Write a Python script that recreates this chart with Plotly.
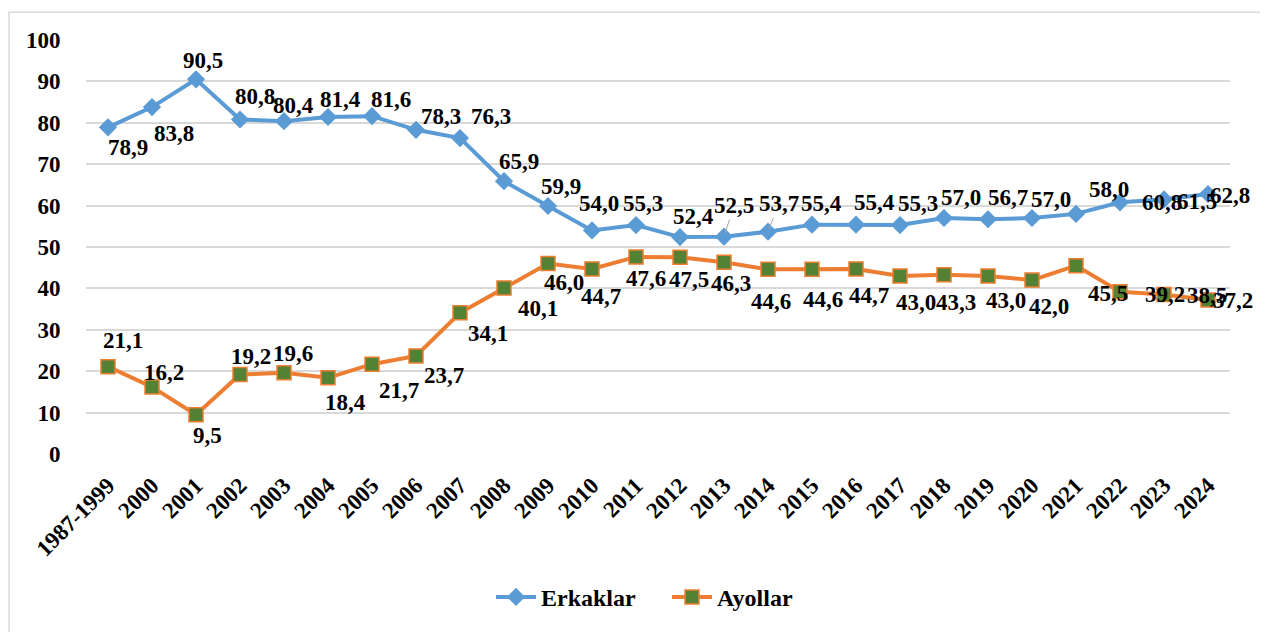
import plotly.graph_objects as go

categories = ["1987-1999", "2000", "2001", "2002", "2003", "2004", "2005", "2006", "2007",
              "2008", "2009", "2010", "2011", "2012", "2013", "2014", "2015", "2016",
              "2017", "2018", "2019", "2020", "2021", "2022", "2023", "2024"]
erkaklar = [78.9, 83.8, 90.5, 80.8, 80.4, 81.4, 81.6, 78.3, 76.3, 65.9, 59.9, 54.0, 55.3,
            52.4, 52.5, 53.7, 55.4, 55.4, 55.3, 57.0, 56.7, 57.0, 58.0, 60.8, 61.5, 62.8]
ayollar = [21.1, 16.2, 9.5, 19.2, 19.6, 18.4, 21.7, 23.7, 34.1, 40.1, 46.0, 44.7, 47.6,
           47.5, 46.3, 44.6, 44.6, 44.7, 43.0, 43.3, 43.0, 42.0, 45.5, 39.2, 38.5, 37.2]
y_ticks = [0, 10, 20, 30, 40, 50, 60, 70, 80, 90, 100]

# label offsets (pixels) - styling only
men_off = [(20, 20), (22, 26), (7, -19), (15, -23), (9, -16), (12, -18), (19, -17), (25, -13),
           (31, -22), (15, -20), (13, -20), (7, -27), (7, -22), (13, -21), (10, -31), (11, -28),
           (9, -21), (18, -22), (18, -22), (17, -21), (20, -22), (19, -19), (33, -24), (42, 0),
           (33, 2), (22, 1)]
wom_off = [(15, -26), (12, -14), (11, 21), (11, -18), (9, -19), (17, 25), (27, 26), (28, 20),
           (28, 21), (34, 21), (16, 19), (9, 28), (10, 22), (9, 22), (7, 21), (3, 32), (11, 30),
           (13, 27), (16, 27), (12, 28), (18, 25), (17, 26), (32, 28), (45, 3), (43, 1), (25, 1)]
leader_men = {14, 15}

FONT = '"Liberation Serif", "Times New Roman", Times, serif'
BLUE = "#5B9BD5"
ORANGE = "#ED7D31"
GREEN = "#548235"

fig = go.Figure()
fig.add_trace(go.Scatter(
    x=categories, y=erkaklar, name="<b>Erkaklar</b>", mode="lines+markers",
    line=dict(color=BLUE, width=4),
    marker=dict(symbol="diamond", size=14, color=BLUE),
))
fig.add_trace(go.Scatter(
    x=categories, y=ayollar, name="<b>Ayollar</b>", mode="lines+markers",
    line=dict(color=ORANGE, width=4),
    marker=dict(symbol="square", size=14, color=GREEN, line=dict(color=ORANGE, width=1.5)),
))

def fmt(v):
    return f"{v:.1f}".replace(".", ",")

annotations = []
for i, v in enumerate(erkaklar):
    dx, dy = men_off[i]
    annotations.append(dict(
        x=i, y=v, xref="x", yref="y", text=f"<b>{fmt(v)}</b>", showarrow=True,
        ax=dx, ay=dy, arrowhead=0, arrowwidth=1, standoff=3,
        arrowcolor="#A6A6A6" if i in leader_men else "rgba(0,0,0,0)",
        font=dict(family=FONT, size=23, color="black"),
    ))
for i, v in enumerate(ayollar):
    dx, dy = wom_off[i]
    annotations.append(dict(
        x=i, y=v, xref="x", yref="y", text=f"<b>{fmt(v)}</b>", showarrow=True,
        ax=dx, ay=dy, arrowhead=0, arrowwidth=1, arrowcolor="rgba(0,0,0,0)",
        font=dict(family=FONT, size=23, color="black"),
    ))

OFF = 8  # page body margin
W, H = 1260, 624
L, T = 86 - OFF, 40 - OFF
pw = 1144
ph = 416
R = W - L - pw
B = H - T - ph

fig.update_layout(
    width=W, height=H,
    margin=dict(l=L, r=R, t=T, b=B, pad=0),
    paper_bgcolor="white", plot_bgcolor="white",
    font=dict(family=FONT, size=20, color="black"),
    showlegend=True,
    legend=dict(orientation="h", x=(491 - 86) / pw, xanchor="left", y=(40 + ph - 600) / ph,
                yanchor="middle", font=dict(family=FONT, size=24, color="black"),
                itemwidth=40, entrywidth=121, entrywidthmode="pixels"),
    annotations=annotations,
    shapes=[dict(type="rect", xref="paper", yref="paper",
                 x0=(9 - 86) / pw, x1=(1262 - 86) / pw,
                 y0=(40 + ph - 645) / ph, y1=(40 + ph - 12) / ph,
                 line=dict(color="#D9D9D9", width=1.5), fillcolor="rgba(0,0,0,0)",
                 layer="below")],
)
fig.update_xaxes(
    type="category", range=[-0.5, len(categories) - 0.5],
    tickangle=-45, ticks="outside", ticklen=8, tickcolor="rgba(0,0,0,0)",
    tickfont=dict(family=FONT, size=23, color="black"),
    showgrid=False, showline=False, zeroline=False,
    tickprefix="<b>", ticksuffix="</b>",
)
fig.update_yaxes(
    range=[0, 100], tickvals=y_ticks, ticktext=[f"<b>{t}</b>" for t in y_ticks],
    ticks="outside", ticklen=20, tickcolor="rgba(0,0,0,0)",
    tickfont=dict(family=FONT, size=23, color="black"),
    showgrid=True, gridcolor="#D9D9D9", gridwidth=1.5,
    showline=False, zeroline=False,
)

fig.write_html("out.html")
